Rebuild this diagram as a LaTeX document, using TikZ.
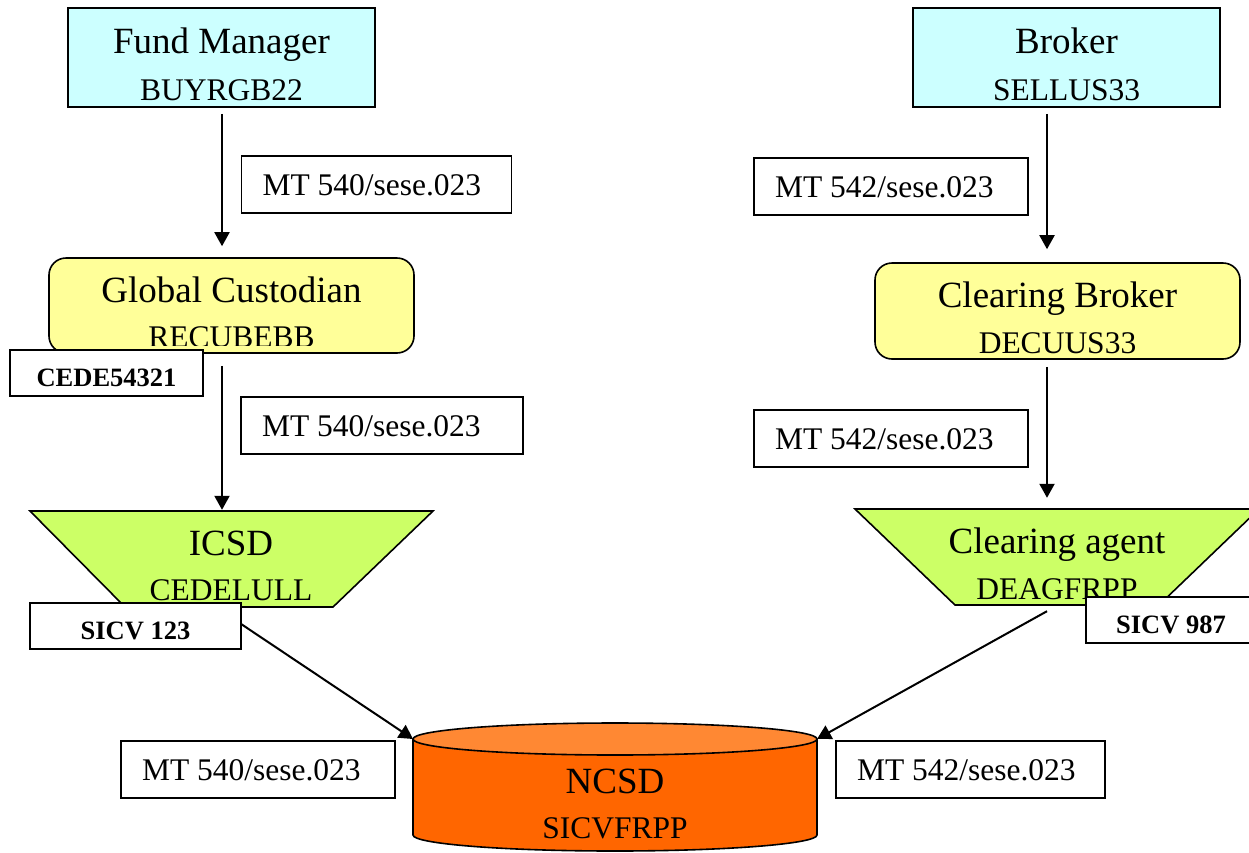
\documentclass[tikz,border=0pt]{standalone}
\usepackage{fontspec}
\setmainfont{Liberation Serif}
\usetikzlibrary{arrows.meta,calc}
\definecolor{cyanbox}{HTML}{CCFFFF}
\definecolor{yellowbox}{HTML}{FFFF99}
\definecolor{greenbox}{HTML}{CCFF66}
\definecolor{orangebody}{HTML}{FF6600}
\definecolor{orangetop}{HTML}{FF8833}
\begin{document}
\begin{tikzpicture}[x=1pt,y=-1pt,
  shapebox/.style={draw=black,line width=1.6pt,inner sep=0pt},
  ghost/.style={inner sep=0pt},
  lab/.style={draw=black,line width=1.4pt,fill=white,inner xsep=21pt,inner ysep=0pt,
    minimum height=57pt,align=flush left,text height=21pt,text depth=0pt,
    font=\fontsize{31.5}{34}\selectfont},
  blab/.style={draw=black,line width=1.4pt,fill=white,inner sep=0pt,
    minimum height=46pt,text height=26pt,text depth=0pt,
    font=\fontsize{26.5}{29}\selectfont\bfseries},
  bigtxt/.style={anchor=base,inner sep=0pt,font=\fontsize{37}{40}\selectfont},
  smalltxt/.style={anchor=base,inner sep=0pt,font=\fontsize{31.5}{34}\selectfont},
  arr/.style={line width=2pt,-{Triangle[length=14pt,width=15pt]}},
  link/.style={line width=2pt}]
\useasboundingbox (0,0) rectangle (1249,852);

% top boxes
\node[shapebox,fill=cyanbox,minimum width=307pt,minimum height=99pt] (fm) at (221.5,57.5) {};
\node[bigtxt] (fmt1) at (221.5,53) {Fund Manager};
\node[smalltxt] (fmt2) at (221.5,100) {BUYRGB22};

\node[shapebox,fill=cyanbox,minimum width=307pt,minimum height=99pt] (br) at (1066.5,57.5) {};
\node[bigtxt] (brt1) at (1066.5,53) {Broker};
\node[smalltxt] (brt2) at (1066.5,100) {SELLUS33};

% rounded boxes
\node[shapebox,fill=yellowbox,rounded corners=17pt,minimum width=365pt,minimum height=95pt] (gc) at (231.5,305.5) {};
\node[bigtxt] (gct1) at (231.5,302) {Global Custodian};
\begin{scope}
  \clip (0,0) rectangle (1249,345);
  \node[smalltxt] (gct2) at (231.5,347) {RECUBEBB};
\end{scope}

\node[shapebox,fill=yellowbox,rounded corners=17pt,minimum width=365pt,minimum height=96pt] (cb) at (1057.5,311) {};
\node[bigtxt] (cbt1) at (1057.5,307) {Clearing Broker};
\node[smalltxt] (cbt2) at (1057.5,353) {DECUUS33};

% trapezoids
\draw[line width=1.6pt,fill=greenbox] (30,511) -- (433,511) -- (333,607) -- (125,607) -- cycle;
\node[ghost,minimum width=403pt,minimum height=96pt] (icsd) at (231,559) {};
\node[bigtxt] (icsdt1) at (231,555) {ICSD};
\node[smalltxt] (icsdt2) at (231,600) {CEDELULL};

\draw[line width=1.6pt,fill=greenbox] (855,509) -- (1259,509) -- (1159,605) -- (955,605) -- cycle;
\node[ghost,minimum width=404pt,minimum height=96pt] (ca) at (1057,557) {};
\node[bigtxt] (cat1) at (1057,553) {Clearing agent};
\node[smalltxt] (cat2) at (1057,599) {DEAGFRPP};

% cylinder
\fill[orangebody] (413,739) -- (413,835) arc[start angle=180,end angle=0,x radius=202,y radius=16] -- (817,739) -- cycle;
\draw[line width=1.6pt] (413,739) -- (413,835) arc[start angle=180,end angle=0,x radius=202,y radius=16] -- (817,739);
\draw[line width=1.6pt,fill=orangetop] (615,739) ellipse[x radius=202,y radius=16];
\node[ghost,minimum width=404pt,minimum height=128pt] (ncsd) at (615,787) {};
\coordinate (ntl) at (413,739);
\coordinate (ntr) at (817,739);
\node[bigtxt] (ncsdt1) at (615,793) {NCSD};
\node[smalltxt] (ncsdt2) at (615,838) {SICVFRPP};

% vertical arrows
\draw[arr] ([xshift=0.5pt,yshift=-6pt]fm.south) -- ([xshift=0.5pt,yshift=11pt]fm.south |- gc.north);
\draw[arr] ([xshift=-9.5pt,yshift=-12pt]gc.south) -- ([xshift=-9.5pt,yshift=1pt]gc.south |- icsd.north);
\draw[arr] ([xshift=-19.5pt,yshift=-6pt]br.south) -- ([xshift=-19.5pt,yshift=13pt]br.south |- cb.north);
\draw[arr] ([xshift=-10.5pt,yshift=-7pt]cb.south) -- ([xshift=-10.5pt,yshift=11pt]cb.south |- ca.north);

% diagonal arrows
\draw[arr] ([xshift=-15pt]icsd.south) -- (ntl);
\draw[arr] ([xshift=-10pt,yshift=-6pt]ca.south) -- (ntr);

% message labels
\node[lab,minimum width=270pt,text width=228pt] (l1) at (376.5,184.5) {MT 540/sese.023};
\node[lab,minimum width=274pt,text width=232pt] (l2) at (891,186.5) {MT 542/sese.023};
\node[lab,minimum width=282pt,text width=240pt] (l3) at (382,425.5) {MT 540/sese.023};
\node[lab,minimum width=274pt,text width=232pt] (l4) at (891,438.5) {MT 542/sese.023};
\node[lab,minimum width=274pt,text width=232pt] (l5) at (258,769.5) {MT 540/sese.023};
\node[lab,minimum width=269pt,text width=227pt] (l6) at (970.5,769.5) {MT 542/sese.023};

% account labels
\node[blab,minimum width=193pt] (cede) at (106.5,373) {CEDE54321};
\node[blab,minimum width=211pt] (s123) at (135.5,626) {SICV 123};
\node[blab,minimum width=170pt] (s987) at (1171,620) {SICV 987};
\end{tikzpicture}
\end{document}
